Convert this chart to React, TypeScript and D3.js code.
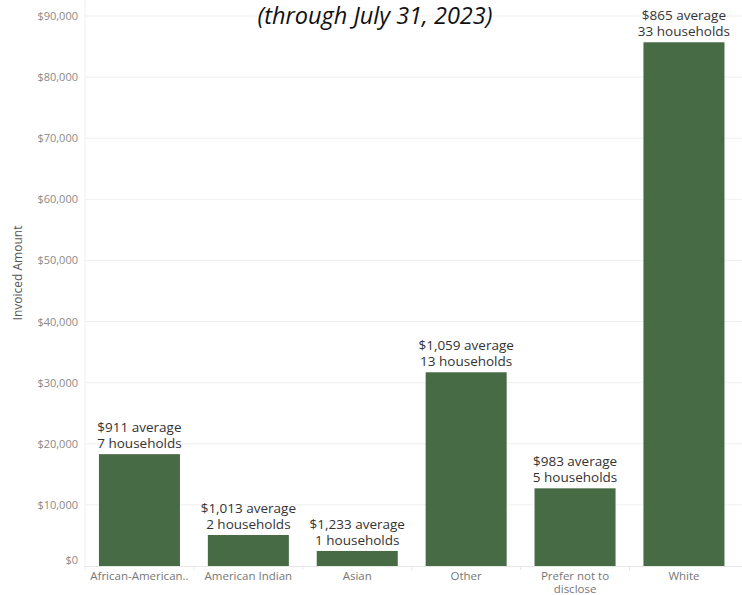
import React from "react";
import * as d3 from "d3";

const categories = ["African-American..", "American Indian", "Asian", "Other", "Prefer not to|disclose", "White"];
const invoiced = [18300, 5070, 2460, 31700, 12710, 85700];
const averages = ["$911", "$1,013", "$1,233", "$1,059", "$983", "$865"];
const households = [7, 2, 1, 13, 5, 33];
const yTicks = [0, 10000, 20000, 30000, 40000, 50000, 60000, 70000, 80000, 90000];

const W = 742;
const H = 595;
const FONT = "'Open Sans', sans-serif";

export default function App() {
  const x = d3.scaleBand<string>().domain(categories).range([85, 738.4]).paddingInner(0.256).paddingOuter(0.128);
  const y = d3.scaleLinear().domain([0, 90000]).range([566, 16]);
  const fmt = (v: number) => "$" + d3.format(",")(v);
  const step = x.step();
  return (
    <svg width={W} height={H} style={{ position: "absolute", left: 0, top: 0, background: "#fff" }}>
      {yTicks.map((t) => (
        <g key={t}>
          {t > 0 && <line x1={85} x2={W} y1={y(t)} y2={y(t)} stroke="#efefef" strokeWidth={1} />}
          <text x={78} y={t === 0 ? y(t) - 2 : y(t) + 4} textAnchor="end" fontFamily={FONT} fontSize={11} fill="#8a8a8a">
            {fmt(t)}
          </text>
        </g>
      ))}
      <line x1={85} x2={85} y1={0} y2={567} stroke="#efefef" />
      <line x1={85} x2={W} y1={566.5} y2={566.5} stroke="#e6e6e6" />
      {categories.map((c, i) => (
        <line key={"tk" + i} x1={(x(c) as number) - (step - x.bandwidth()) / 2} x2={(x(c) as number) - (step - x.bandwidth()) / 2} y1={566} y2={570} stroke="#e6e6e6" />
      ))}
      <text transform="translate(22,273) rotate(-90)" textAnchor="middle" fontFamily={FONT} fontSize={12} fill="#555">
        Invoiced Amount
      </text>
      {categories.map((c, i) => {
        const bx = x(c) as number;
        const cx = bx + x.bandwidth() / 2;
        const top = y(invoiced[i]);
        const lines = c.split("|");
        return (
          <g key={c}>
            <rect x={bx} y={top} width={x.bandwidth()} height={566 - top} fill="#476b45" />
            <text x={cx} y={top - 22} textAnchor="middle" fontFamily={FONT} fontSize={13.5} fill="#333">
              {averages[i]} average
            </text>
            <text x={cx} y={top - 6} textAnchor="middle" fontFamily={FONT} fontSize={13.5} fill="#333">
              {households[i]} households
            </text>
            {lines.map((l, j) => (
              <text key={j} x={cx} y={580 + j * 13} textAnchor="middle" fontFamily={FONT} fontSize={11.5} fill="#777">
                {l}
              </text>
            ))}
          </g>
        );
      })}
      <text x={375} y={24} textAnchor="middle" fontFamily={FONT} fontStyle="italic" fontSize={23.5} fill="#111">
        (through July 31, 2023)
      </text>
    </svg>
  );
}
